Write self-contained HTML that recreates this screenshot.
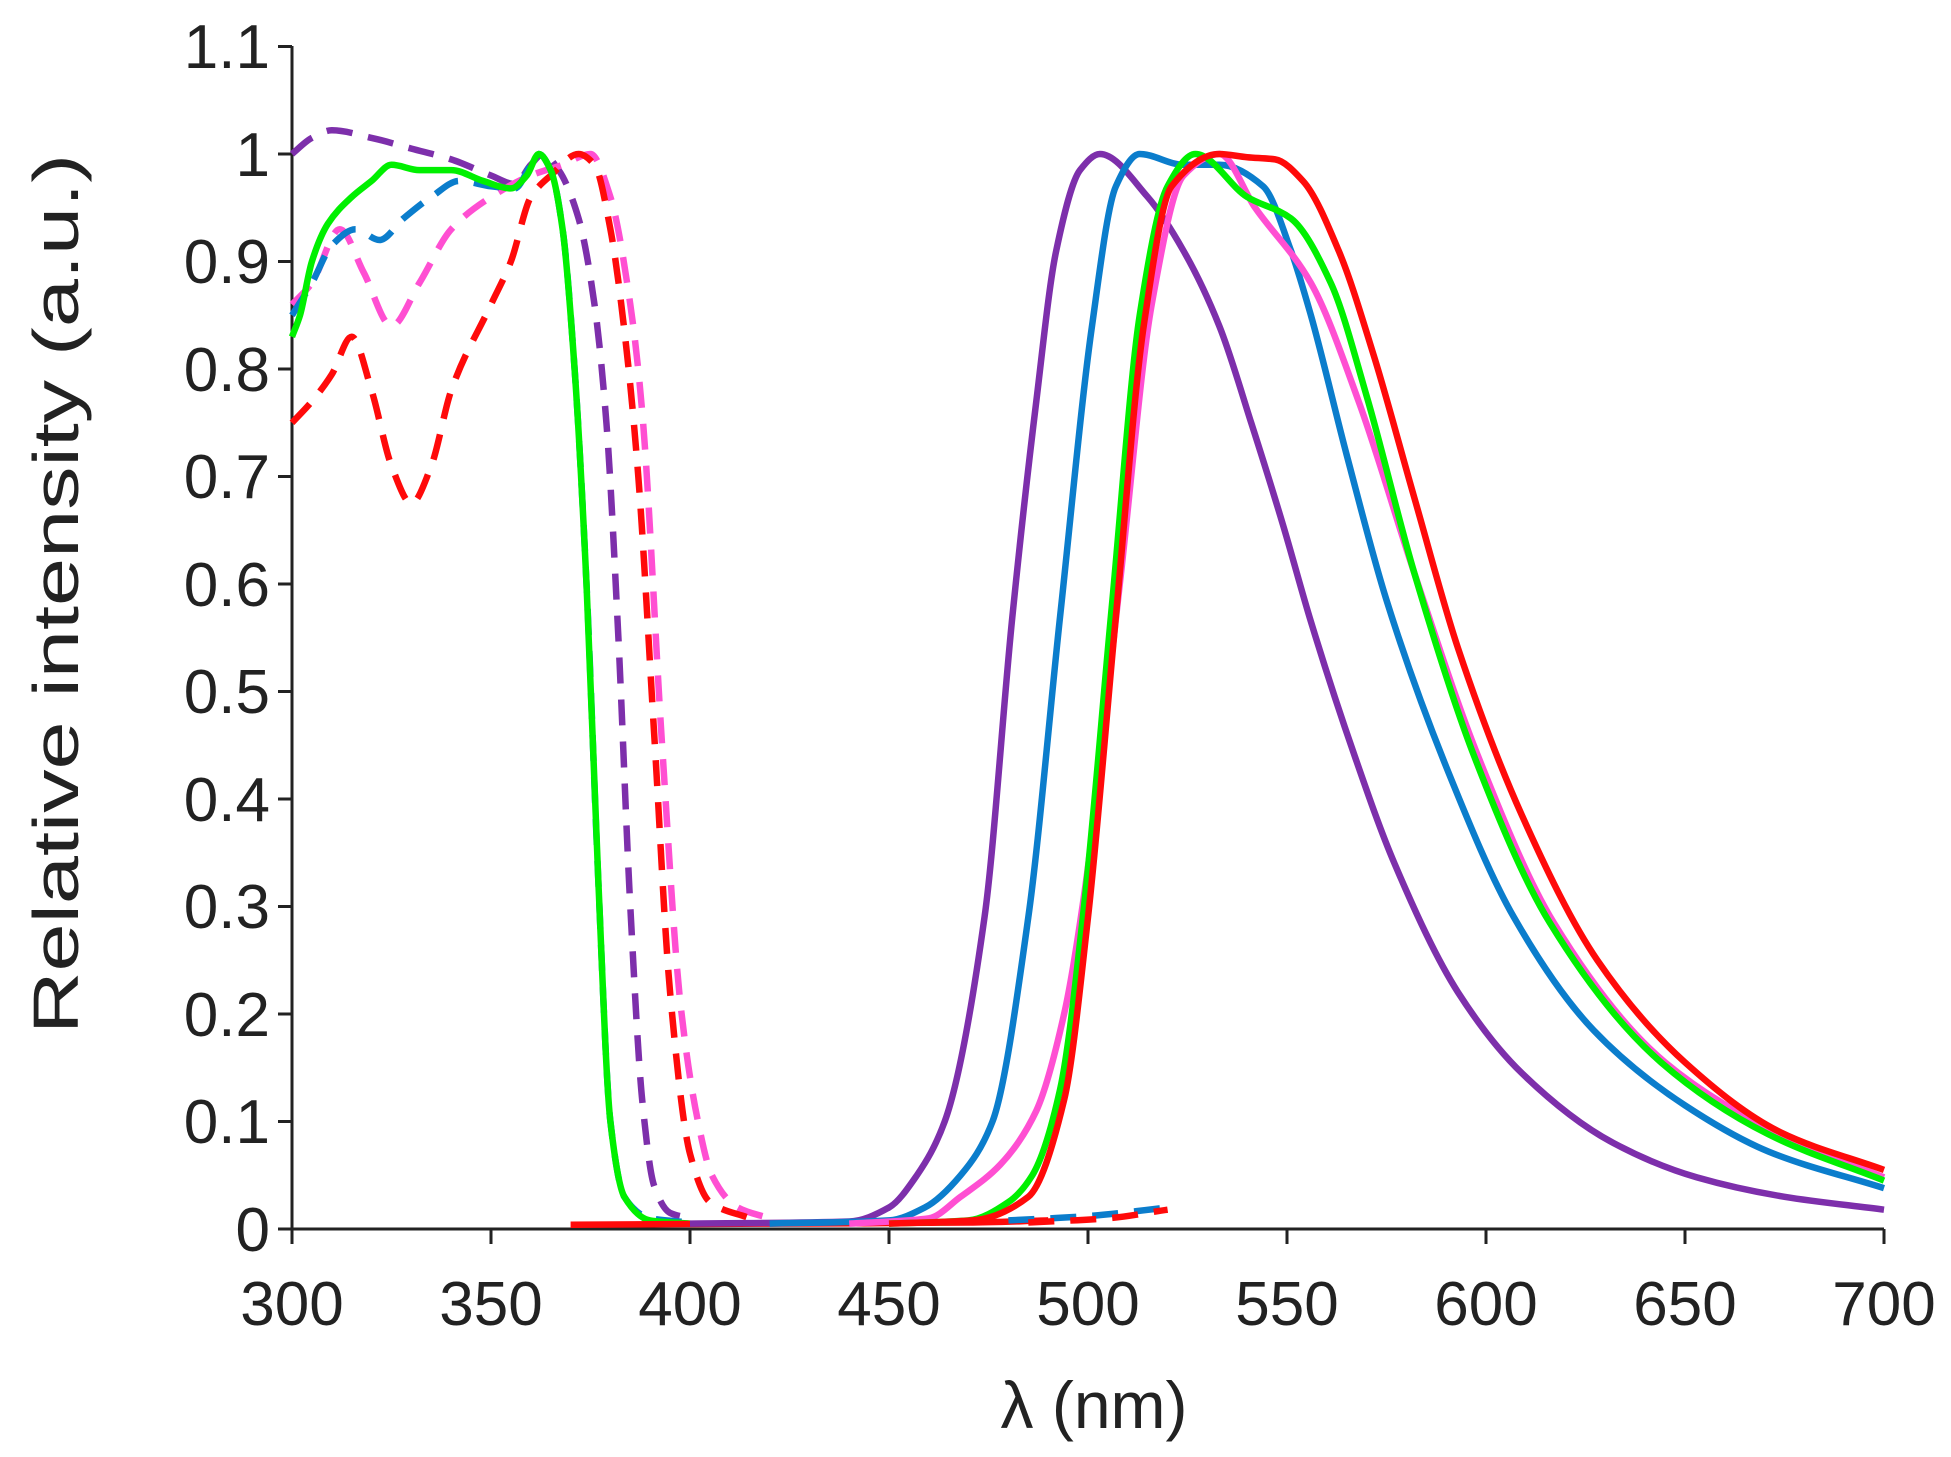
<!DOCTYPE html>
<html><head><meta charset="utf-8"><style>
html,body{margin:0;padding:0;background:#fff}
svg{display:block}
text{font-family:"Liberation Sans",Arial,sans-serif;fill:#222}
</style></head><body>
<svg id="s" width="1951" height="1457" viewBox="0 0 1951 1457" xmlns="http://www.w3.org/2000/svg">
<g font-size="62" text-anchor="end">
<text x="270" y="68">1.1</text><text x="270" y="176">1</text><text x="270" y="283">0.9</text><text x="270" y="391">0.8</text><text x="270" y="498">0.7</text><text x="270" y="606">0.6</text><text x="270" y="713">0.5</text><text x="270" y="821">0.4</text><text x="270" y="928">0.3</text><text x="270" y="1036">0.2</text><text x="270" y="1143">0.1</text><text x="270" y="1251">0</text>
</g>
<g font-size="62" text-anchor="middle">
<text x="292" y="1325">300</text><text x="491" y="1325">350</text><text x="690" y="1325">400</text><text x="889" y="1325">450</text><text x="1088" y="1325">500</text><text x="1287" y="1325">550</text><text x="1486" y="1325">600</text><text x="1685" y="1325">650</text><text x="1884" y="1325">700</text>
<text x="1094" y="1428" font-size="66">λ (nm)</text>
<text x="0" y="0" font-size="64" transform="translate(56,594) rotate(-90)" dy="22" textLength="880" lengthAdjust="spacingAndGlyphs">Relative intensity (a.u.)</text>
</g>
<g stroke="#222" stroke-width="3" fill="none" id="ax"></g>
<g id="curves" fill="none" stroke-linecap="butt" stroke-linejoin="round"></g>
</svg>
<script>
var X=function(n){return 292+(n-300)*3.98},Y=function(v){return 1229-v*1075};
var ax=document.getElementById('ax'),h='';
h+='<path d="M292 46V1229H1884"/>';
for(var i=0;i<=11;i++){var y=Y(i/10);h+='<path d="M278 '+y+'H292"/>';}
for(var n=300;n<=700;n+=50){h+='<path d="M'+X(n)+' 1229V1244"/>';}
ax.innerHTML=h;
function path(pts){
 var n=pts.length,x=pts.map(function(a){return a[0]}),y=pts.map(function(a){return a[1]});
 var d=[],m=[];
 for(var i=0;i<n-1;i++)d.push((y[i+1]-y[i])/(x[i+1]-x[i]));
 m[0]=d[0];m[n-1]=d[n-2];
 for(i=1;i<n-1;i++){ if(d[i-1]*d[i]<=0)m[i]=0; else {var w1=2*(x[i+1]-x[i])+(x[i]-x[i-1]),w2=(x[i+1]-x[i])+2*(x[i]-x[i-1]);m[i]=(w1+w2)/(w1/d[i-1]+w2/d[i]);} }
 var s='M'+X(x[0]).toFixed(1)+' '+Y(y[0]).toFixed(1);
 for(i=0;i<n-1;i++){var hh=(x[i+1]-x[i])/3;
  s+='C'+X(x[i]+hh).toFixed(1)+' '+Y(y[i]+m[i]*hh).toFixed(1)+' '+X(x[i+1]-hh).toFixed(1)+' '+Y(y[i+1]-m[i+1]*hh).toFixed(1)+' '+X(x[i+1]).toFixed(1)+' '+Y(y[i+1]).toFixed(1);}
 return s;}
var C={pu:'#7d2fab',bl:'#0b7dcc',gr:'#00f000',pk:'#ff4fd2',rd:'#ff0a0a'};
var S=[
['pu',1,[[300,1.0],[305,1.015],[310,1.022],[320,1.015],[330,1.005],[340,0.995],[350,0.98],[356,0.972],[360,0.99],[363,1.0],[367,0.985],[372,0.94],[376,0.86],[379,0.75],[382,0.55],[385,0.3],[388,0.12],[391,0.04],[395,0.015],[400,0.01]]],
['pk',1,[[300,0.86],[305,0.88],[312,0.93],[318,0.89],[325,0.84],[332,0.88],[340,0.93],[350,0.96],[360,0.98],[368,0.99],[375,1.0],[380,0.96],[385,0.86],[388,0.76],[393,0.45],[397.6,0.21],[402,0.1],[405.5,0.05],[412,0.02],[420,0.01]]],
['rd',1,[[300,0.75],[305,0.77],[310,0.795],[315,0.83],[320,0.78],[325,0.71],[330,0.675],[335,0.71],[340,0.78],[350,0.86],[355,0.9],[360,0.96],[365,0.98],[372,1.0],[376,0.99],[380,0.93],[384,0.82],[387,0.7],[391,0.46],[395,0.22],[400,0.07],[405,0.025],[415,0.01]]],
['bl',1,[[300,0.85],[305,0.88],[310,0.915],[316,0.93],[322,0.92],[328,0.94],[335,0.96],[342,0.975],[350,0.97],[356,0.968],[360,0.99],[362,1.0],[365,0.985],[368,0.93],[371,0.8],[374,0.6],[377,0.32],[380,0.1],[383.5,0.03],[390,0.01],[400,0.006]]],
['gr',0,[[300,0.83],[302,0.85],[305,0.9],[309,0.935],[315,0.96],[320,0.975],[325,0.99],[332,0.985],[340,0.985],[348,0.975],[355,0.968],[359,0.98],[362,1.0],[365,0.985],[368,0.93],[371,0.8],[374,0.6],[377,0.32],[380,0.1],[383.5,0.03],[390,0.008],[400,0.005]]],
['rd',0,[[370,0.004],[420,0.005],[470,0.006],[490,0.008]]],
['bl',1,[[480,0.008],[500,0.012],[520,0.02]]],
['rd',1,[[485,0.006],[505,0.01],[520,0.018]]],
['pu',0,[[400,0.005],[440,0.007],[450,0.02],[457,0.05],[464,0.1],[474,0.29],[481,0.57],[487,0.77],[492,0.91],[498,0.985],[503,1.0],[515,0.96],[524,0.91],[533,0.84],[541,0.75],[549,0.655],[556,0.565],[567,0.44],[577,0.34],[593,0.22],[609,0.145],[632,0.08],[653,0.048],[675,0.03],[700,0.018]]],
['bl',0,[[420,0.005],[450,0.008],[459,0.02],[468,0.05],[476,0.1],[485,0.29],[493,0.57],[501,0.84],[507,0.97],[513,1.0],[524,0.99],[533,0.99],[544,0.97],[551,0.91],[556,0.85],[565,0.72],[575,0.585],[590,0.43],[607,0.29],[627,0.185],[650,0.115],[671,0.072],[700,0.038]]],
['pk',0,[[440,0.005],[460,0.01],[468,0.03],[478,0.06],[487,0.11],[494,0.2],[499,0.31],[508,0.6],[516,0.86],[524,0.98],[533,1.0],[542,0.95],[556,0.88],[568,0.77],[582,0.61],[598,0.44],[617,0.285],[645,0.155],[674,0.088],[700,0.048]]],
['gr',0,[[450,0.005],[470,0.008],[480,0.025],[486,0.05],[493,0.13],[499,0.3],[506,0.58],[513,0.85],[520,0.97],[527,1.0],[540,0.96],[551,0.94],[561,0.88],[570,0.775],[582,0.61],[597,0.44],[616,0.285],[644,0.155],[671,0.088],[700,0.045]]],
['rd',0,[[450,0.005],[471,0.008],[485,0.03],[494,0.12],[500,0.29],[507,0.57],[514,0.84],[521,0.97],[533,1.0],[540,0.997],[547,0.995],[554,0.975],[563,0.91],[572,0.81],[582,0.68],[593,0.54],[609,0.385],[628,0.25],[650,0.155],[674,0.09],[700,0.055]]]
];
var g=document.getElementById('curves'),o='';
S.forEach(function(s){o+='<path d="'+path(s[2])+'" stroke="'+C[s[0]]+'" stroke-width="6.5"'+(s[1]?' stroke-dasharray="26 16"':'')+'/>';});
g.innerHTML=o;
</script>
</body></html>
